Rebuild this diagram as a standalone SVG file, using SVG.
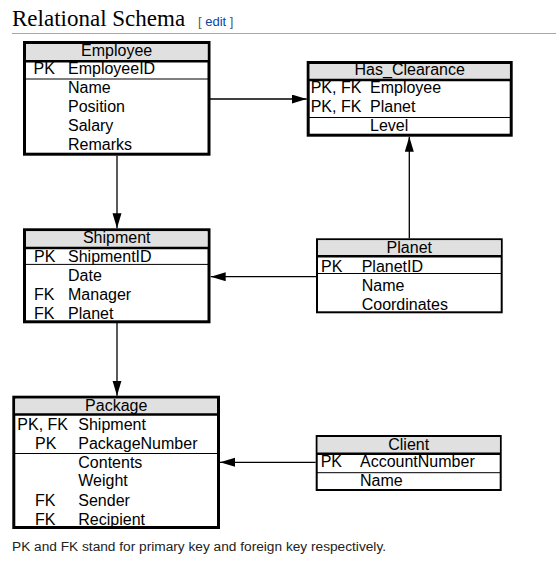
<svg xmlns="http://www.w3.org/2000/svg" width="556" height="573" viewBox="0 0 556 573">
<style>
.box{fill:#fff;stroke:#000;stroke-width:3}
.thin{stroke-width:2}
.hdr{fill:#e0e0e0}
.hl{stroke:#000;stroke-width:2.5}
.sep{stroke:#000;stroke-width:1}
.t{font-family:"Liberation Sans",Arial,Helvetica,sans-serif;font-size:16px;fill:#000}
.c{text-anchor:middle}
.conn line{stroke:#000;stroke-width:1.3;fill:none}
</style>
<defs>
<marker id="ah" markerUnits="userSpaceOnUse" markerWidth="16" markerHeight="10" refX="15" refY="4.5" orient="auto">
<path d="M0,0 L15,4.5 L0,9 z" fill="#000"/>
</marker>
</defs>
<rect width="556" height="573" fill="#fff"/>
<g id="heading">
<text x="12" y="26" font-family="'Liberation Serif','Times New Roman',serif" font-size="23" fill="#000">Relational Schema</text>
<text x="198" y="26" font-family="'Liberation Sans',Arial,sans-serif" font-size="13" fill="#54595d">[ <tspan fill="#0645ad">edit</tspan> ]</text>
<line x1="12" y1="33.5" x2="556" y2="33.5" stroke="#a2a9b1" stroke-width="1"/>
</g>
<g class="conn" id="connectors">
<line x1="210" y1="99" x2="306.7" y2="99" marker-end="url(#ah)"/>
<line x1="117" y1="155.5" x2="117" y2="228.3" marker-end="url(#ah)"/>
<line x1="409.3" y1="238.3" x2="409.3" y2="136.7" marker-end="url(#ah)"/>
<line x1="316" y1="276.7" x2="210.7" y2="276.7" marker-end="url(#ah)"/>
<line x1="117" y1="323" x2="117" y2="395.7" marker-end="url(#ah)"/>
<line x1="315.7" y1="462.3" x2="220" y2="462.3" marker-end="url(#ah)"/>
</g>
<g id="employee">
<rect class="box" x="24.5" y="42.5" width="184.5" height="111.7"/>
<rect class="hdr" x="26" y="44" width="181.5" height="17"/>
<line class="hl" x1="24.5" y1="61.3" x2="209" y2="61.3"/>
<line class="sep" x1="24.5" y1="79" x2="209" y2="79"/>
<text class="t c" x="116.7" y="56">Employee</text>
<text class="t" x="33.5" y="74">PK</text>
<text class="t" x="68" y="74">EmployeeID</text>
<text class="t" x="68" y="93">Name</text>
<text class="t" x="68" y="112">Position</text>
<text class="t" x="68" y="131">Salary</text>
<text class="t" x="68" y="150">Remarks</text>
</g>
<g id="has_clearance">
<rect class="box" x="308.2" y="62.5" width="203" height="72.7"/>
<rect class="hdr" x="309.7" y="64" width="200" height="16"/>
<line class="hl" x1="308.2" y1="80" x2="511.2" y2="80"/>
<line class="sep" x1="308.2" y1="117.5" x2="511.2" y2="117.5"/>
<text class="t c" x="409.7" y="74.5">Has_Clearance</text>
<text class="t" x="310.7" y="93.3">PK, FK</text>
<text class="t" x="370" y="93.3">Employee</text>
<text class="t" x="310.7" y="112.3">PK, FK</text>
<text class="t" x="370" y="112.3">Planet</text>
<text class="t" x="370" y="131">Level</text>
</g>
<g id="shipment">
<rect class="box" x="24.5" y="229.8" width="184.5" height="92"/>
<rect class="hdr" x="26" y="231.3" width="181.5" height="16.7"/>
<line class="hl" x1="24.5" y1="248" x2="209" y2="248"/>
<line class="sep" x1="24.5" y1="264.4" x2="209" y2="264.4"/>
<text class="t c" x="116.7" y="243.3">Shipment</text>
<text class="t" x="34" y="261.7">PK</text>
<text class="t" x="68" y="261.7">ShipmentID</text>
<text class="t" x="68" y="280.7">Date</text>
<text class="t" x="34" y="299.7">FK</text>
<text class="t" x="68" y="299.7">Manager</text>
<text class="t" x="34" y="318.7">FK</text>
<text class="t" x="68" y="318.7">Planet</text>
</g>
<g id="planet">
<rect class="box thin" x="317" y="239.3" width="184.7" height="73"/>
<rect class="hdr" x="318" y="240.3" width="182.7" height="16"/>
<line class="hl" x1="317" y1="256.2" x2="501.7" y2="256.2"/>
<line class="sep" x1="317" y1="273.5" x2="501.7" y2="273.5"/>
<text class="t c" x="409.3" y="253.3">Planet</text>
<text class="t" x="321" y="271.7">PK</text>
<text class="t" x="361.7" y="271.7">PlanetID</text>
<text class="t" x="361.7" y="290.7">Name</text>
<text class="t" x="361.7" y="309.7">Coordinates</text>
</g>
<g id="package">
<rect class="box" x="13.8" y="397.2" width="204.7" height="130.3"/>
<rect class="hdr" x="15.3" y="398.7" width="201.7" height="16"/>
<line class="hl" x1="13.8" y1="414.5" x2="218.5" y2="414.5"/>
<line class="sep" x1="13.8" y1="453.5" x2="218.5" y2="453.5"/>
<text class="t c" x="116.2" y="411">Package</text>
<text class="t" x="17.3" y="430">PK, FK</text>
<text class="t" x="78.3" y="430">Shipment</text>
<text class="t" x="35" y="449">PK</text>
<text class="t" x="78.3" y="449">PackageNumber</text>
<text class="t" x="78.3" y="467.5">Contents</text>
<text class="t" x="78.3" y="486.3">Weight</text>
<text class="t" x="35" y="505.5">FK</text>
<text class="t" x="78.3" y="505.5">Sender</text>
<text class="t" x="35" y="524.5">FK</text>
<text class="t" x="78.3" y="524.5">Recipient</text>
</g>
<g id="client">
<rect class="box thin" x="316.7" y="436" width="184" height="54"/>
<rect class="hdr" x="317.7" y="437" width="182" height="16.5"/>
<line class="hl" x1="316.7" y1="453.7" x2="500.7" y2="453.7"/>
<line class="sep" x1="316.7" y1="472.7" x2="500.7" y2="472.7"/>
<text class="t c" x="408.7" y="450">Client</text>
<text class="t" x="320.7" y="466.7">PK</text>
<text class="t" x="360" y="466.7">AccountNumber</text>
<text class="t" x="360" y="485.7">Name</text>
</g>
<g id="footer">
<text x="12" y="550.5" font-family="'Liberation Sans',Arial,sans-serif" font-size="13.7" fill="#222">PK and FK stand for primary key and foreign key respectively.</text>
</g>
</svg>
